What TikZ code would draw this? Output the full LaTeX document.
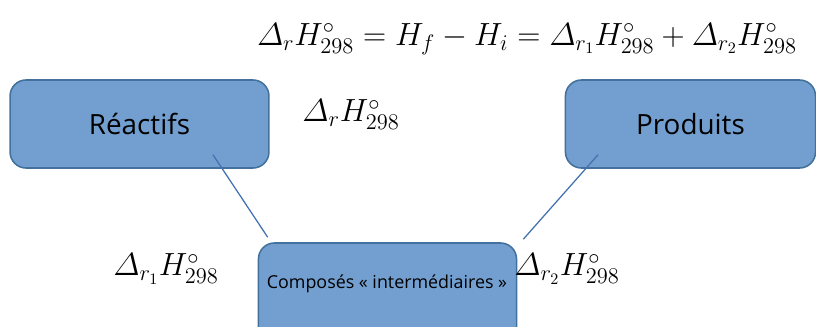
\RequirePackage{fix-cm}
\documentclass[tikz,border=0pt]{standalone}
\usepackage{amsmath}
\usepackage{fontspec}
\setmainfont{Open Sans}
\usetikzlibrary{calc}

\definecolor{boxfill}{RGB}{114,159,207}
\definecolor{boxedge}{RGB}{65,113,156}
\definecolor{linkblue}{RGB}{66,114,176}

\begin{document}
\begin{tikzpicture}[
  x=0.025cm, y=-0.025cm,
  box/.style={draw=boxedge, fill=boxfill, line width=1.1pt,
    rounded corners=0.4cm, inner sep=0pt},
  link/.style={draw=linkblue, line width=0.9pt},
  enth/.style={inner sep=0pt, font=\fontsize{22.8}{27}\selectfont},
]

% Frame of the page (the bottom box runs off it)
\clip (0,0) rectangle (816,327);

% ── The three boxes ───────────────────────────────────────────────
\node[box, minimum width=6.47cm, minimum height=2.2cm,
  font=\fontsize{19.8}{23}\selectfont] (reac) at (139.5,124) {Réactifs};
\node[box, minimum width=6.25cm, minimum height=2.2cm,
  font=\fontsize{19.8}{23}\selectfont] (prod) at (690.5,124) {Produits};
\node[box, minimum width=6.45cm, minimum height=2.6cm] (comp) at (387.5,295) {};
\node[font=\fontsize{12.7}{15}\selectfont] (comptxt) at (387,284)
  {Composés « intermédiaires »};

% ── Links between the boxes ───────────────────────────────────────
\draw[link] ($(reac.south)+(73.5,-14)$) -- ($(comp.north west)+(10,-5)$);
\draw[link] ($(prod.south)+(-92.5,-14)$) -- ($(comp.north east)+(6,-3)$);

% ── Enthalpies ────────────────────────────────────────────────────
\node[enth] (total) at (527,39)
  {$\varDelta_r H^{\circ}_{298} = H_f - H_i
    = \varDelta_{r_1} H^{\circ}_{298} + \varDelta_{r_2} H^{\circ}_{298}$};
\node[enth] (dr) at (351,115) {$\varDelta_r H^{\circ}_{298}$};
\node[enth] (dr1) at (166,269) {$\varDelta_{r_1} H^{\circ}_{298}$};
\node[enth] (dr2) at (567,269) {$\varDelta_{r_2} H^{\circ}_{298}$};

\end{tikzpicture}
\end{document}
